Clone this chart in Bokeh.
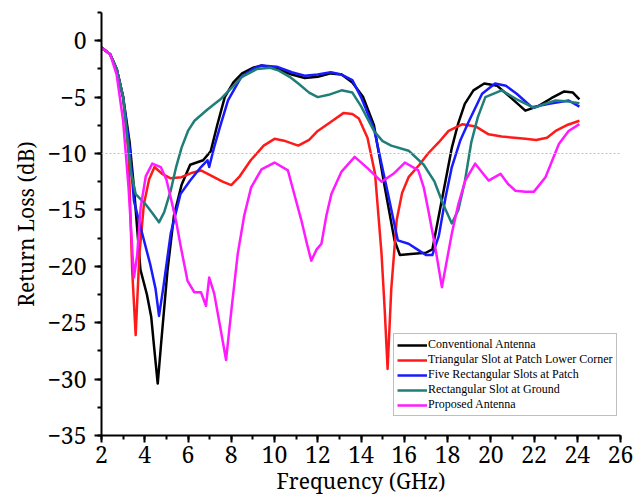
from bokeh.plotting import figure
from bokeh.models import SingleIntervalTicker, Span, Legend, LegendItem, Range1d
from bokeh.embed import file_html
from bokeh.resources import INLINE

# ---------------- data ----------------
conv_x = [2, 2.4, 2.7, 3.0, 3.3, 3.5, 3.8, 4.1, 4.3, 4.45, 4.6, 4.75, 5.05, 5.35, 5.7, 6.1, 6.7,
          7.05, 7.35, 7.7, 8.1, 8.5, 9.0, 9.4, 10.0, 10.8, 11.4, 12.0, 12.6, 13.1, 13.6, 14.1, 14.6,
          15.1, 15.55, 15.8, 16.3, 17.0, 17.3, 17.6, 17.9, 18.2, 18.5, 18.8, 19.2, 19.7, 20.3, 20.9,
          21.6, 22.2, 22.8, 23.4, 23.8, 24.1]
conv_y = [-0.6, -1.2, -2.5, -5.0, -9.0, -13.0, -20.3, -22.5, -24.5, -27.5, -30.4, -27.0, -20.4,
          -15.5, -12.8, -11.0, -10.6, -9.8, -7.5, -5.0, -3.7, -2.9, -2.4, -2.2, -2.4, -3.0, -3.3,
          -3.2, -2.9, -3.0, -3.7, -5.0, -7.5, -13.0, -17.7, -19.0, -18.9, -18.8, -18.5, -15.5,
          -12.5, -9.5, -7.3, -5.6, -4.4, -3.8, -4.0, -5.0, -6.2, -5.8, -5.1, -4.5, -4.6, -5.2]

tri_x = [2, 2.4, 2.7, 3.0, 3.25, 3.42, 3.58, 3.75, 3.96, 4.2, 4.45, 4.8, 5.2, 5.7, 6.2, 6.6, 7.2,
         7.6, 8.0, 8.4, 8.9, 9.5, 10.0, 10.5, 11.1, 11.6, 12.0, 12.6, 13.2, 13.6, 13.9, 14.3, 14.65,
         14.95, 15.1, 15.23, 15.4, 15.65, 15.9, 16.2, 16.7, 17.1, 17.6, 18.05, 18.7, 19.3, 19.9,
         20.5, 21.1, 21.6, 22.1, 22.6, 23.0, 23.5, 24.1]
tri_y = [-0.6, -1.2, -2.5, -5.0, -10.0, -20.4, -26.1, -19.0, -14.5, -12.3, -11.2, -11.8, -12.2,
         -12.1, -11.7, -11.5, -12.1, -12.5, -12.8, -12.0, -10.6, -9.3, -8.7, -8.9, -9.3, -8.8,
         -8.0, -7.2, -6.4, -6.5, -6.9, -8.6, -11.8, -18.9, -24.0, -29.1, -22.0, -15.9, -13.5,
         -12.1, -11.0, -10.0, -9.0, -8.0, -7.4, -7.6, -8.3, -8.5, -8.6, -8.7, -8.8, -8.6, -8.0,
         -7.5, -7.1]

five_x = [2, 2.4, 2.7, 3.0, 3.3, 3.5, 3.8, 4.25, 4.5, 4.66, 4.85, 5.2, 5.65, 6.1, 6.6, 6.9, 6.98,
          7.2, 7.5, 7.85, 8.45, 9.0, 9.4, 10.1, 10.8, 11.4, 12.0, 12.6, 13.1, 13.6, 14.0, 14.6,
          15.25, 15.7, 16.2, 16.6, 17.0, 17.3, 17.6, 17.9, 18.2, 18.6, 19.0, 19.6, 20.2, 20.7,
          21.2, 21.9, 22.7, 23.6, 24.1]
five_y = [-0.6, -1.2, -2.5, -5.0, -9.5, -14.2, -16.5, -19.8, -22.0, -24.4, -22.0, -17.1, -13.6,
          -12.4, -11.2, -10.6, -11.2, -9.5, -7.5, -5.3, -3.25, -2.5, -2.2, -2.3, -2.8, -3.1,
          -3.0, -2.8, -3.0, -3.5, -5.0, -7.8, -13.6, -17.7, -18.0, -18.5, -19.0, -19.0, -17.3,
          -14.0, -11.2, -8.8, -7.1, -4.7, -3.8, -4.0, -4.7, -5.9, -5.6, -5.3, -5.85]

gnd_x = [2, 2.4, 2.7, 3.0, 3.35, 3.58, 4.04, 4.4, 4.66, 4.9, 5.2, 5.45, 5.7, 6.0, 6.3, 6.9, 7.5,
         8.0, 8.5, 9.2, 9.8, 10.2, 10.7, 11.1, 11.6, 12.0, 12.5, 13.1, 13.6, 14.0, 14.6, 15.0,
         15.4, 16.2, 16.9, 17.4, 17.8, 18.2, 18.5, 18.8, 19.1, 19.4, 19.75, 20.5, 21.3, 22.0,
         22.5, 23.0, 23.6, 24.1]
gnd_y = [-0.6, -1.2, -2.5, -5.0, -11.5, -13.6, -14.5, -15.4, -16.1, -15.2, -13.3, -11.2, -9.5,
         -8.0, -7.1, -6.1, -5.2, -4.2, -3.2, -2.5, -2.4, -2.65, -3.2, -3.8, -4.6, -5.0, -4.8,
         -4.4, -4.6, -5.8, -8.0, -8.9, -9.3, -9.75, -11.0, -12.5, -14.5, -16.2, -15.0, -12.5,
         -9.0, -6.8, -5.0, -4.4, -5.3, -5.95, -5.6, -5.3, -5.4, -5.55]

prop_x = [2, 2.4, 2.7, 3.0, 3.25, 3.5, 3.65, 3.81, 4.05, 4.35, 4.74, 5.0, 5.2, 5.45, 5.67, 5.98,
          6.29, 6.6, 6.83, 6.98, 7.21, 7.5, 7.76, 8.0, 8.3, 8.6, 8.92, 9.4, 10.0, 10.62, 10.9,
          11.24, 11.5, 11.7, 11.95, 12.17, 12.4, 12.63, 13.1, 13.71, 14.3, 14.95, 15.5, 16.03,
          16.65, 16.9, 17.12, 17.45, 17.74, 18.2, 18.5, 18.82, 19.28, 19.9, 20.45, 20.8, 21.14,
          21.6, 21.99, 22.53, 23.15, 23.6, 24.1]
prop_y = [-0.6, -1.2, -3.0, -7.1, -13.0, -21.0, -19.0, -14.8, -12.0, -10.9, -11.2, -12.3, -13.9,
          -16.0, -18.3, -21.3, -22.3, -22.3, -23.5, -21.0, -22.4, -25.5, -28.3, -24.0, -18.9,
          -15.5, -13.0, -11.4, -10.8, -11.5, -13.5, -15.9, -18.0, -19.5, -18.5, -18.0, -15.5,
          -13.6, -11.6, -10.3, -11.3, -12.5, -11.8, -10.8, -11.5, -13.0, -15.1, -18.5, -21.85,
          -17.1, -14.5, -12.4, -10.9, -12.4, -11.8, -12.7, -13.3, -13.4, -13.4, -12.1, -9.15,
          -8.0, -7.4]

series_names = ["Conventional Antenna", "Triangular Slot at Patch Lower Corner",
                "Five Rectangular Slots at Patch", "Rectangular Slot at Ground", "Proposed Antenna"]
series_x = [conv_x, tri_x, five_x, gnd_x, prop_x]
series_y = [conv_y, tri_y, five_y, gnd_y, prop_y]
series_colors = ["#000000", "#ff1a1a", "#1a1aff", "#1f7f78", "#ff1aff"]

LEGEND_FONT = "Liberation Serif"
AXIS_FONT = "Noto Serif"

p = figure(width=641, height=503, output_backend="svg", toolbar_location=None,
           x_range=Range1d(2, 26), y_range=Range1d(-35, 2.5),
           min_border_left=101, min_border_right=21, min_border_top=12, min_border_bottom=68)
p.outline_line_color = None
p.xgrid.visible = False
p.ygrid.visible = False
p.background_fill_color = "white"

p.add_layout(Span(location=-10, dimension="width", line_color="#c0c0c0",
                  line_dash="2 2", line_width=1))

items = []
for name, xs, ys, c in zip(series_names, series_x, series_y, series_colors):
    r = p.line(xs, ys, line_color=c, line_width=2.5, line_join="round")
    items.append(LegendItem(label=name, renderers=[r]))

p.xaxis.ticker = SingleIntervalTicker(interval=2, num_minor_ticks=2)
p.yaxis.ticker = SingleIntervalTicker(interval=5, num_minor_ticks=2)
p.xaxis.axis_label = "Frequency (GHz)"
p.yaxis.axis_label = "Return Loss (dB)"
p.axis.axis_line_width = 2
p.axis.axis_line_color = "black"
p.axis.major_tick_line_width = 2
p.axis.minor_tick_line_width = 2
p.axis.major_tick_out = 7
p.axis.major_tick_in = 0
p.axis.minor_tick_out = 4
p.axis.minor_tick_in = 0
p.axis.major_label_text_color = "black"
p.axis.major_label_text_font = AXIS_FONT
p.axis.major_label_text_font_size = "23px"
p.axis.axis_label_text_font = AXIS_FONT
p.axis.axis_label_text_font_size = "21px"
p.axis.axis_label_text_font_style = "normal"
p.axis.axis_label_text_color = "black"

p.xaxis.major_label_standoff = 3
p.xaxis.axis_label_standoff = 1
p.yaxis.major_label_standoff = 8
p.yaxis.axis_label_standoff = 4

legend = Legend(items=items, location=(292, 19))
legend.label_text_font = LEGEND_FONT
legend.label_text_font_size = "12px"
legend.label_text_color = "black"
legend.glyph_width = 30
legend.glyph_height = 12
legend.label_height = 12
legend.label_standoff = 1
legend.spacing = 0
legend.padding = 3
legend.margin = 0
legend.border_line_color = "#808080"
legend.border_line_width = 1
legend.background_fill_alpha = 1
p.add_layout(legend, "center")

open("out.html", "w").write(file_html(p, INLINE))
